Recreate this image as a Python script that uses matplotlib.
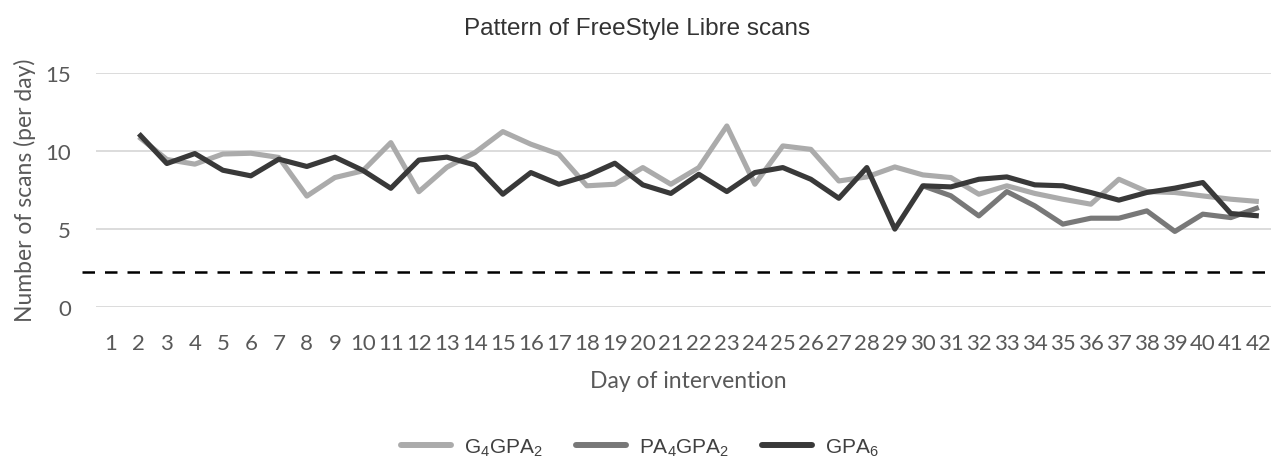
import numpy as np
import matplotlib.pyplot as plt

plt.rcParams['mathtext.default'] = 'regular'

days = np.arange(1, 43)

# G4GPA2 (light grey), starts on day 2
g4gpa2 = [np.nan, 10.9, 9.45, 9.15, 9.8, 9.85, 9.58, 7.1, 8.29, 8.72, 10.53, 7.38, 8.95, 9.89,
          11.24, 10.43, 9.79, 7.76, 7.86, 8.93, 7.86, 8.93, 11.6, 7.86, 10.32, 10.1, 8.07, 8.33,
          8.97, 8.46, 8.29, 7.22, 7.76, 7.27, 6.9, 6.58, 8.18, 7.39, 7.33, 7.11, 6.9, 6.75]
# PA4GPA2 (mid grey), starts on day 30
pa4gpa2 = [np.nan] * 29 + [7.76, 7.12, 5.83, 7.39, 6.47, 5.3, 5.68, 5.68, 6.15, 4.83, 5.94, 5.72, 6.37]
# GPA6 (dark), starts on day 2
gpa6 = [np.nan, 11.1, 9.19, 9.83, 8.76, 8.4, 9.47, 9.0, 9.6, 8.75, 7.6, 9.41, 9.6, 9.1,
        7.22, 8.61, 7.86, 8.4, 9.21, 7.82, 7.27, 8.5, 7.39, 8.61, 8.93, 8.18, 6.96, 8.93,
        4.98, 7.76, 7.69, 8.18, 8.33, 7.82, 7.76, 7.33, 6.84, 7.33, 7.61, 7.97, 5.98, 5.83]
threshold = 2.2

W, H = 1271, 460
fig = plt.figure(figsize=(W / 100, H / 100), dpi=100)
ax = fig.add_axes([96 / W, (H - 307.7) / H, 1175 / W, 233.7 / H])

ax.plot(days, g4gpa2, color='#ababab', lw=3.7, solid_capstyle='butt', label='G$_4$GPA$_2$')
ax.plot(days, pa4gpa2, color='#787878', lw=3.7, solid_capstyle='butt', label='PA$_4$GPA$_2$')
ax.plot(days, gpa6, color='#393939', lw=3.7, solid_capstyle='butt', label='GPA$_6$')
ax.axhline(threshold, xmin=-0.012, xmax=1, color='black', lw=1.8, ls=(0, (5, 4)), clip_on=False)

ax.set_xlim(0.47, 0.47 + 1175 / 28.0)
ax.set_ylim(0, 15)
ax.set_yticks([0, 5, 10, 15])
ax.set_xticks(days)
ax.set_xticklabels([str(d) for d in days])
ax.yaxis.grid(True, color='#d9d9d9', lw=1.3)
ax.set_axisbelow(True)
for s in ax.spines.values():
    s.set_visible(False)
ax.tick_params(length=0, colors='#595959', labelsize=16)
ax.tick_params(axis='x', pad=19)
ax.tick_params(axis='y', pad=18)
for lab in ax.get_xticklabels() + ax.get_yticklabels():
    lab.set_fontfamily('Lato')

fig.text(637 / W, 1 - 29 / H, 'Pattern of FreeStyle Libre scans', ha='center', va='center',
         fontsize=17.5, color='#333333', family='Liberation Sans')
fig.text(25 / W, 1 - 190 / H, 'Number of scans (per day)', rotation=90, ha='center', va='center',
         fontsize=16.5, color='#595959', family='Lato')
fig.text(688 / W, 1 - 382 / H, 'Day of intervention', ha='center', va='center',
         fontsize=16.5, color='#595959', family='Lato')

leg = fig.legend(loc='center', bbox_to_anchor=(640 / W, 1 - 448 / H), ncol=3, frameon=False,
                 handlelength=2.4, columnspacing=1.6, handletextpad=0.6,
                 prop={'family': 'Liberation Sans', 'size': 15})
for t in leg.get_texts():
    t.set_color('#404040')
for ln in leg.get_lines():
    ln.set_linewidth(4.3)
    ln.set_solid_capstyle('round')

fig.savefig('out.png', dpi=100)
